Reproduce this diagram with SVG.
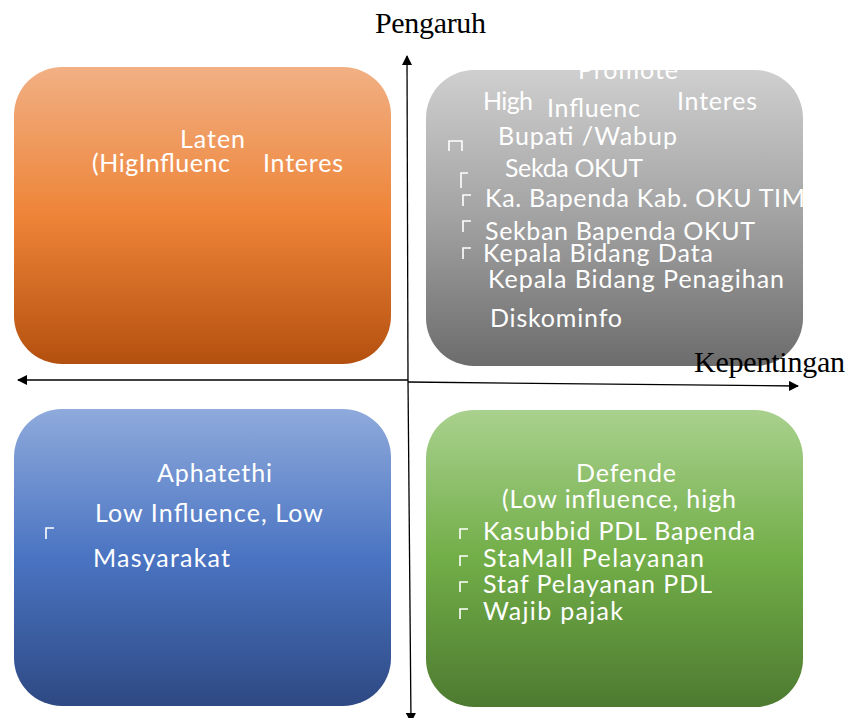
<svg xmlns="http://www.w3.org/2000/svg" width="847" height="718" viewBox="0 0 847 718">
<style>
  .t { font-family: Lato, "Liberation Sans", sans-serif; font-size: 25px; fill: #ffffff; }
  .ax { font-family: "Liberation Serif", serif; font-size: 30px; fill: #000000; }
  .bul { fill: none; stroke: #ffffff; stroke-width: 1.6; }
  .axis { stroke: #000000; stroke-width: 1.3; fill: none; }
</style>
<defs>
  <linearGradient id="gO" x1="0" y1="0" x2="0" y2="1">
    <stop offset="0" stop-color="#F1B084"/><stop offset="0.5" stop-color="#EE8438"/><stop offset="1" stop-color="#B4500F"/>
  </linearGradient>
  <linearGradient id="gG" x1="0" y1="0" x2="0" y2="1">
    <stop offset="0" stop-color="#CFCFCF"/><stop offset="0.5" stop-color="#A2A2A2"/><stop offset="1" stop-color="#6C6C6C"/>
  </linearGradient>
  <linearGradient id="gB" x1="0" y1="0" x2="0" y2="1">
    <stop offset="0" stop-color="#8FAADC"/><stop offset="0.5" stop-color="#4A74C2"/><stop offset="1" stop-color="#2E4983"/>
  </linearGradient>
  <linearGradient id="gN" x1="0" y1="0" x2="0" y2="1">
    <stop offset="0" stop-color="#A9D18E"/><stop offset="0.5" stop-color="#72AE48"/><stop offset="1" stop-color="#4D7A30"/>
  </linearGradient>
  <marker id="ah" viewBox="0 0 10 10" refX="9" refY="5" markerWidth="10" markerHeight="10" markerUnits="userSpaceOnUse" orient="auto-start-reverse">
    <path d="M0,0 L10,5 L0,10 Z" fill="#000000"/>
  </marker>
  <clipPath id="cpGray"><rect x="426" y="62" width="377" height="305"/></clipPath>
</defs>

<g id="laten">
  <rect x="14" y="67" width="377" height="297" rx="48" fill="url(#gO)"/>
  <text class="t" x="180" y="148" textLength="65">Laten</text>
  <text class="t" x="92" y="172" textLength="138">(HigInfluenc</text>
  <text class="t" x="263" y="172" textLength="80">Interes</text>
</g>

<g id="promote">
  <rect x="426" y="70" width="377" height="296" rx="48" fill="url(#gG)"/>
  <g clip-path="url(#cpGray)">
    <text class="t" x="578" y="79" textLength="100">Promote</text>
    <text class="t" x="483" y="110" textLength="50">High</text>
    <text class="t" x="547" y="117" textLength="93">Influenc</text>
    <text class="t" x="677" y="110" textLength="80">Interes</text>
    <text class="t" x="498" y="145" textLength="179">Bupati /Wabup</text>
    <text class="t" x="505" y="177" textLength="138">Sekda OKUT</text>
    <text class="t" x="485" y="207" textLength="320">Ka. Bapenda Kab. OKU TIM</text>
    <text class="t" x="485" y="240" textLength="270">Sekban Bapenda OKUT</text>
    <text class="t" x="483" y="262" textLength="230">Kepala Bidang Data</text>
    <text class="t" x="488" y="288" textLength="296">Kepala Bidang Penagihan</text>
    <text class="t" x="490" y="327" textLength="132">Diskominfo</text>
  </g>
  <path class="bul" d="M449,151 V141 H462 V151"/>
  <path class="bul" d="M461,188 V173 H468"/>
  <path class="bul" d="M463,206 V195 H471"/>
  <path class="bul" d="M463,232 V221 H471"/>
  <path class="bul" d="M463,259 V248 H471"/>
</g>

<g id="aphatethi">
  <rect x="14" y="409" width="377" height="297" rx="48" fill="url(#gB)"/>
  <text class="t" x="157" y="482" textLength="115">Aphatethi</text>
  <text class="t" x="95" y="522" textLength="228">Low Influence, Low</text>
  <text class="t" x="93" y="567" textLength="137">Masyarakat</text>
  <path class="bul" d="M46,539 V528 H54"/>
</g>

<g id="defende">
  <rect x="426" y="410" width="377" height="297" rx="48" fill="url(#gN)"/>
  <text class="t" x="576" y="482" textLength="100">Defende</text>
  <text class="t" x="502" y="508" textLength="234">(Low influence, high</text>
  <text class="t" x="483" y="540" textLength="272">Kasubbid PDL Bapenda</text>
  <text class="t" x="483" y="567" textLength="221">StaMall Pelayanan</text>
  <text class="t" x="483" y="593" textLength="229">Staf Pelayanan PDL</text>
  <text class="t" x="483" y="620" textLength="140">Wajib pajak</text>
  <path class="bul" d="M460,539 V529 H468"/>
  <path class="bul" d="M460,566 V556 H468"/>
  <path class="bul" d="M460,592 V582 H468"/>
  <path class="bul" d="M460,619 V609 H468"/>
</g>

<g id="connectors">
  <line class="axis" x1="408" y1="380" x2="18" y2="380" marker-end="url(#ah)"/>
  <line class="axis" x1="408" y1="382" x2="798" y2="386" marker-end="url(#ah)"/>
  <line class="axis" x1="408" y1="380" x2="407" y2="56" marker-end="url(#ah)"/>
  <line class="axis" x1="408" y1="380" x2="411" y2="722" marker-end="url(#ah)"/>
</g>

<g id="labels">
  <text class="ax" x="375" y="33" textLength="111">Pengaruh</text>
  <text class="ax" x="694" y="372" textLength="151">Kepentingan</text>
</g>
</svg>
